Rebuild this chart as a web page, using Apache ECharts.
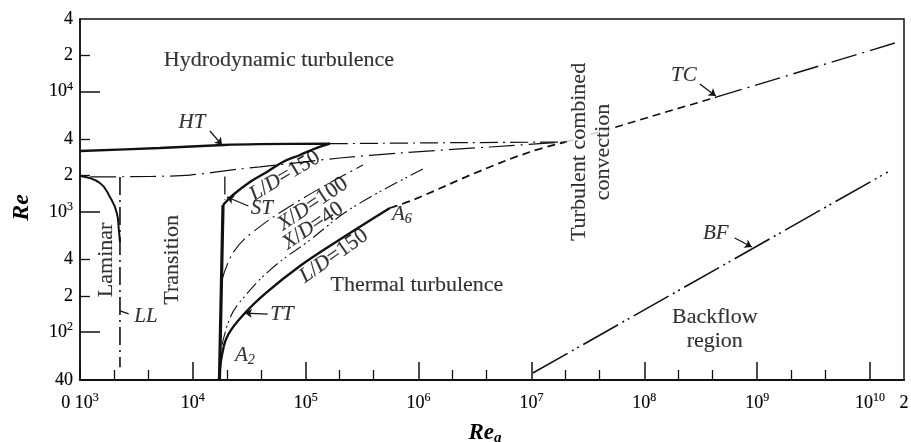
<!DOCTYPE html>
<html><head><meta charset="utf-8">
<script src="https://cdn.jsdelivr.net/npm/echarts@6/dist/echarts.min.js"></script>
<style>html,body{margin:0;padding:0;background:#fff}#c{width:911px;height:442px}</style>
</head><body><div id="c"></div>
<script>
// ---------- axes ----------
const xRange = [1e3, 2e10];
const yRange = [40, 4e4];
const xMajorTicks = [1e3, 1e4, 1e5, 1e6, 1e7, 1e8, 1e9, 1e10];
const xMinorTicks = [2e3, 4e3, 2e4, 4e4, 2e5, 4e5, 2e6, 4e6, 2e7, 4e7, 2e8, 4e8, 2e9, 4e9];
const xLabelValues = [1e3, 1e4, 1e5, 1e6, 1e7, 1e8, 1e9, 1e10, 2e10];
const xLabelTexts = ['0 10{s|3}', '10{s|4}', '10{s|5}', '10{s|6}', '10{s|7}', '10{s|8}', '10{s|9}', '10{s|10}', '2'];
const yMajorTicks = [100, 1000, 10000];
const yMinorTicks = [200, 400, 2000, 4000, 20000];
const yLabelValues = [40, 100, 200, 400, 1000, 2000, 4000, 10000, 20000, 40000];
const yLabelTexts = ['40', '10{s|2}', '2', '4', '10{s|3}', '2', '4', '10{s|4}', '2', '4'];

// ---------- boundary curves (Re_a, Re) ----------
const htCurve       = [[1000, 3200], [5100, 3390], [18500, 3590], [39000, 3650], [164000, 3680]];
const htExtension   = [[164000, 3680], [2e6, 3750], [2e7, 3800]];
const lowerBoundary = [[1230, 1950], [4170, 1965], [9420, 2020], [26100, 2270], [39300, 2360], [201000, 2800], [682000, 3080], [4.29e6, 3455], [2e7, 3800]];
const laminarCurve  = [[1000, 1984], [1500, 1735], [1840, 1328], [2120, 977], [2210, 706], [2260, 560]];
const llLine        = [[2260, 1950], [2260, 51]];
const transDrop     = [[19200, 1960], [19200, 1250]];
const stVertical    = [[17200, 40], [18500, 1140]];
const ldUpper       = [[18500, 1140], [22650, 1378], [32040, 1768], [45300, 2141], [62800, 2593], [88900, 2964], [125600, 3393], [164000, 3680]];
const xd100         = [[18110, 271], [22650, 454], [34040, 679], [88900, 1250], [321000, 2448]];
const xd40          = [[18110, 78], [21310, 131], [26120, 178], [48200, 328], [108900, 583], [256500, 1075], [1.138e6, 2312]];
const ldLower       = [[17020, 40], [18110, 64.5], [20470, 94.6], [28940, 144], [45300, 215], [88900, 354], [174000, 540], [557000, 1075]];
const a6Dashed      = [[557000, 1075], [890000, 1253], [3.49e6, 2180], [9.68e6, 3140], [2e7, 3800]];
const tcDashed      = [[2e7, 3800], [4.39e8, 9000]];
const tcDashDot     = [[4.39e8, 9000], [1.66e10, 25270]];
const bfLine        = [[1.028e7, 45.7], [1.436e10, 2141]];

// ---------- annotations ----------
const annotations = [
  {t: 'Hydrodynamic turbulence', p: [57900, 18250], r: 0},
  {t: 'Laminar', p: [1698, 398], r: 90},
  {t: 'Transition', p: [6530, 398], r: 90},
  {t: 'Thermal turbulence', p: [966000, 246], r: 0},
  {t: 'Turbulent combined\nconvection', p: [3.36e7, 3140], r: 90, bg: true},
  {t: 'Backflow\nregion', p: [4.21e8, 106], r: 0},
  {t: '{i|L}/{i|D}=150', p: [65500, 1983], r: 31},
  {t: '{i|X}/{i|D}=100', p: [115900, 1161], r: 34},
  {t: '{i|X}/{i|D}=40', p: [115900, 762], r: 34},
  {t: '{i|L}/{i|D}=150', p: [177800, 429], r: 35},
  {t: '{i|HT}', p: [9820, 5573], r: 0},
  {t: '{i|ST}', p: [40930, 1075], r: 0},
  {t: '{i|LL}', p: [3842, 134], r: 0},
  {t: '{i|TT}', p: [61500, 141], r: 0},
  {t: '{i|A}{sb|2}', p: [28940, 64.5], r: 0},
  {t: '{i|A}{sb|6}', p: [711000, 958], r: 0},
  {t: '{i|TC}', p: [2.24e8, 13700], r: 0},
  {t: '{i|BF}', p: [4.30e8, 666], r: 0}
];
const pointers = [
  {from: [14160, 4692], to: [18110, 3600], arrow: true},
  {from: [31000, 1117], to: [20040, 1327], arrow: true},
  {from: [46000, 141], to: [28940, 144], arrow: true},
  {from: [3.10e8, 11535], to: [4.30e8, 9165], arrow: true},
  {from: [6.33e8, 605], to: [8.96e8, 510], arrow: true},
  {from: [2260, 150], to: [2700, 142], arrow: false}
];

const FONT = 'Liberation Serif';
const INK = '#000';
const rich = {
  s: {fontFamily: FONT, fontSize: 12, verticalAlign: 'top', color: INK},
  i: {fontFamily: FONT, fontSize: 21, fontStyle: 'italic', color: INK},
  sb: {fontFamily: FONT, fontSize: 14, fontStyle: 'italic', verticalAlign: 'bottom', color: INK}
};
function lookup(vals, texts, v) {
  const lv = Math.log10(v);
  for (let k = 0; k < vals.length; k++) if (Math.abs(Math.log10(vals[k]) - lv) < 1e-6) return texts[k];
  return '';
}
function curve(data, width, type, smooth) {
  return {type: 'line', data: data, showSymbol: false, symbol: 'none', smooth: smooth || false,
    silent: true, animation: false, clip: true,
    lineStyle: {color: '#111', width: width, type: type || 'solid', cap: 'butt'}};
}
const dashDot = [18, 5, 2, 5];
const dashDotLong = [26, 6, 2, 6];
const dashDot2 = [14, 4, 2, 3, 2, 4];
const dashDot2Long = [40, 5, 2, 4, 2, 5];

const chart = echarts.init(document.getElementById('c'), null, {renderer: 'canvas'});
const baseX = {type: 'log', logBase: 10, min: xRange[0], max: xRange[1], position: 'bottom', splitLine: {show: false}};
const baseY = {type: 'log', logBase: 10, min: yRange[0], max: yRange[1], position: 'left', splitLine: {show: false}};
chart.setOption({
  backgroundColor: '#fff',
  animation: false,
  grid: {left: 80, right: 7, top: 19, bottom: 62, containLabel: false, outerBoundsMode: 'none',
    show: true, borderColor: '#111', borderWidth: 1.5, backgroundColor: 'transparent'},
  xAxis: [
    Object.assign({}, baseX, {
      name: '{n|Re}{ns|a}', nameLocation: 'middle', nameGap: 40,
      nameTextStyle: {padding: [0, 14, 0, 0], rich: {
        n: {fontFamily: FONT, fontSize: 23, fontWeight: 'bold', fontStyle: 'italic', color: INK, lineHeight: 26},
        ns: {fontFamily: FONT, fontSize: 15, fontWeight: 'bold', fontStyle: 'italic', color: INK, verticalAlign: 'bottom'}}},
      axisLine: {show: true, lineStyle: {color: '#111', width: 2}},
      axisTick: {show: true, inside: true, length: 18, customValues: xMajorTicks, lineStyle: {color: '#111', width: 1.5}},
      axisLabel: {show: true, customValues: xLabelValues, margin: 12, fontFamily: FONT, fontSize: 18, color: INK, lineHeight: 22,
        textBorderColor: INK, textBorderWidth: 0.15,
        formatter: v => lookup(xLabelValues, xLabelTexts, v), rich: rich}
    }),
    Object.assign({}, baseX, {
      axisLine: {show: false},
      axisTick: {show: true, inside: true, length: 10, customValues: xMinorTicks, lineStyle: {color: '#111', width: 1.3}},
      axisLabel: {show: false}
    })
  ],
  yAxis: [
    Object.assign({}, baseY, {
      name: 'Re', nameLocation: 'middle', nameGap: 46, nameRotate: 90,
      nameTextStyle: {fontFamily: FONT, fontSize: 24, fontWeight: 'bold', fontStyle: 'italic', color: INK, padding: [0, 16, 0, 0]},
      axisLine: {show: true, lineStyle: {color: '#111', width: 1.5}},
      axisTick: {show: true, inside: true, length: 20, customValues: yMajorTicks, lineStyle: {color: '#111', width: 1.5}},
      axisLabel: {show: true, customValues: yLabelValues, margin: 7, fontFamily: FONT, fontSize: 18, color: INK, lineHeight: 22,
        textBorderColor: INK, textBorderWidth: 0.15,
        formatter: v => lookup(yLabelValues, yLabelTexts, v), rich: rich}
    }),
    Object.assign({}, baseY, {
      axisLine: {show: false},
      axisTick: {show: true, inside: true, length: 10, customValues: yMinorTicks, lineStyle: {color: '#111', width: 1.3}},
      axisLabel: {show: false}
    })
  ],
  series: [
    curve(htCurve, 2.4, 'solid', 0.3),
    curve(htExtension, 1.2, dashDot, 0.3),
    curve(lowerBoundary, 1.2, dashDotLong, 0.3),
    curve(laminarCurve, 2, 'solid', 0.5),
    curve(llLine, 1.6, dashDot),
    curve(transDrop, 1.3, dashDot),
    curve(stVertical, 3.2, 'solid'),
    curve(ldUpper, 2.4, 'solid', 0.4),
    curve(xd100, 1.1, dashDot, 0.4),
    curve(xd40, 1.1, dashDot2, 0.4),
    curve(ldLower, 2.4, 'solid', 0.4),
    curve(a6Dashed, 1.8, [8, 5], 0.4),
    curve(tcDashed, 1.6, [8, 5]),
    curve(tcDashDot, 1.4, dashDotLong),
    curve(bfLine, 1.6, dashDot2Long),
    {
      type: 'lines', coordinateSystem: 'cartesian2d', silent: true, animation: false,
      data: pointers.map(a => ({coords: [a.from, a.to], symbol: a.arrow ? ['none', 'arrow'] : ['none', 'none'], symbolSize: a.arrow ? 7 : 0})),
      lineStyle: {color: '#111', width: 1.3, opacity: 1, curveness: 0}
    },
    {
      type: 'scatter', silent: true, animation: false, symbolSize: 1, itemStyle: {color: 'rgba(0,0,0,0)'}, z: 5,
      data: annotations.map(a => ({value: a.p, label: {
        show: true, position: 'inside', formatter: a.t, rotate: a.r, align: 'center', verticalAlign: 'middle',
        offset: a.r === 0 ? [0, 3] : [0, 0],
        backgroundColor: a.bg ? '#fff' : 'transparent', padding: a.bg ? [0, 2] : 0,
        fontFamily: FONT, fontSize: 22, color: INK, lineHeight: 24, textBorderColor: INK, textBorderWidth: 0.15, rich: rich}})),
      labelLayout: {hideOverlap: false}
    }
  ]
});
</script>
</body></html>
